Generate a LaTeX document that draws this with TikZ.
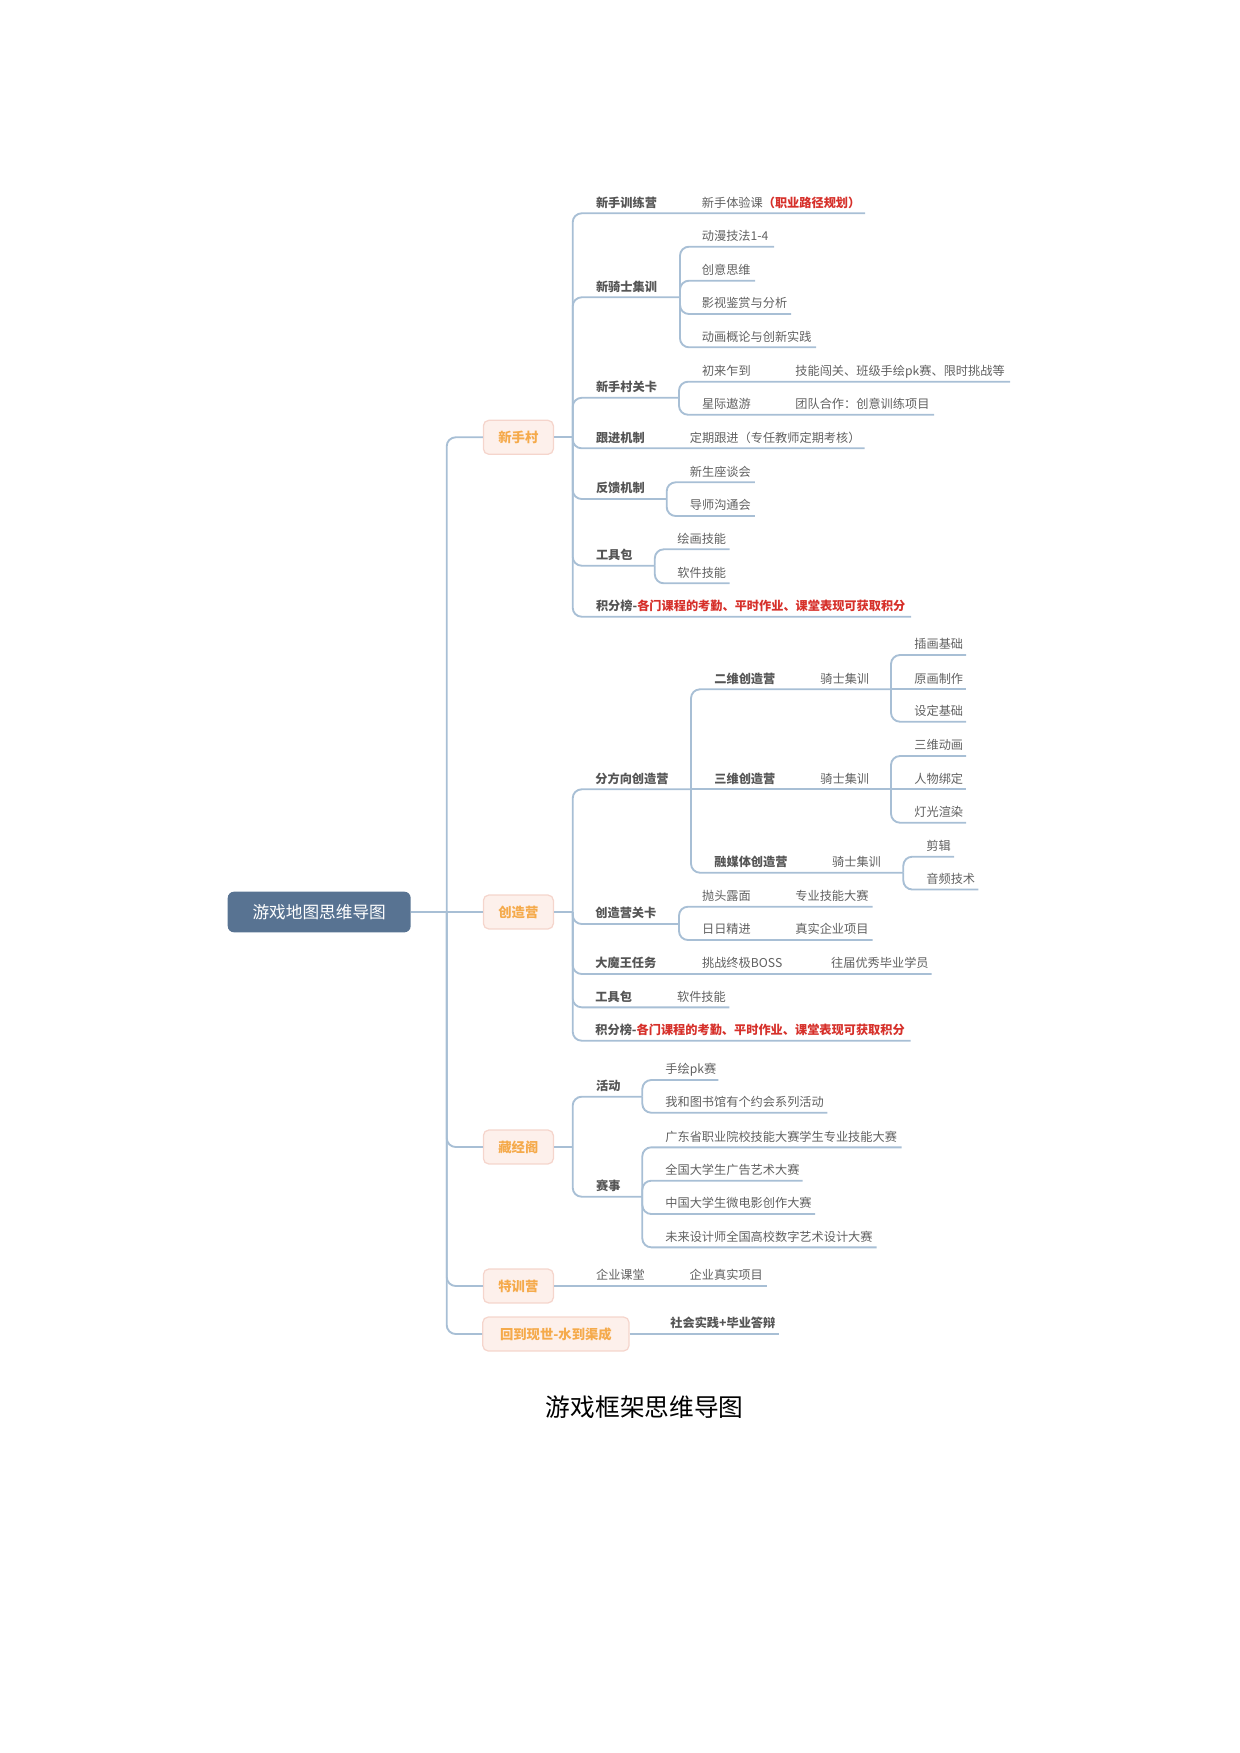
\documentclass[tikz,border=0pt]{standalone}
\usepackage{fontspec}
\setmainfont{Noto Sans CJK SC}
\definecolor{ln}{RGB}{168,191,213}
\definecolor{rootc}{RGB}{88,115,146}
\definecolor{lof}{RGB}{253,240,235}
\definecolor{lob}{RGB}{245,213,204}
\definecolor{lot}{RGB}{245,170,75}
\definecolor{tg}{RGB}{96,96,96}
\definecolor{tdk}{RGB}{85,85,85}
\definecolor{redt}{RGB}{214,48,42}
\begin{document}
\begin{tikzpicture}[x=0.48pt,y=-0.48pt,
  conn/.style={draw=ln,line width=0.9pt,rounded corners=4.3pt},
  tr/.style={anchor=base west,inner sep=0pt,yshift=3pt,text=tg,font=\fontsize{5.85}{7}\selectfont},
  tb/.style={anchor=base west,inner sep=0pt,yshift=3pt,text=tdk,font=\fontsize{5.85}{7}\selectfont\bfseries},
  lone/.style={draw=lob,fill=lof,line width=0.6pt,rounded corners=2.6pt,minimum height=16.3pt,inner sep=0pt,text=lot,font=\fontsize{6.4}{8}\selectfont\bfseries},
  rootbox/.style={fill=rootc,rounded corners=3pt,minimum width=87.8pt,minimum height=19.5pt,inner sep=0pt,text=white,font=\fontsize{8}{10}\selectfont}]
\useasboundingbox (0,0) rectangle (1240,1753);

% root and level 1
\node[rootbox] (root) at (319.2,912) {游戏地图思维导图};
\coordinate (J) at (446.7,912);
\node[lone,minimum width=33.6pt] (xsc) at (518.4,437.3) {新手村};
\node[lone,minimum width=33.6pt] (czy) at (518.4,912) {创造营};
\node[lone,minimum width=33.6pt] (cjg) at (518.4,1147) {藏经阁};
\node[lone,minimum width=33.6pt] (txy) at (518.4,1286) {特训营};
\node[lone,minimum width=70.2pt] (hdxs) at (555.9,1334) {回到现世-水到渠成};
\draw[conn] (root.east) -- (J);
\draw[conn] (J) |- (xsc.west);
\draw[conn] (J) -- (czy.west);
\draw[conn] (J) |- (cjg.west);
\draw[conn] (J) |- (txy.west);
\draw[conn] (J) |- (hdxs.west);

% ===== 新手村 =====
\coordinate (pA) at (572.7,437.3);
\draw[conn] (xsc.east) -- (pA);
\node[tb] (a1) at (595.6,213.3) {新手训练营};
\node[tr] (a1a) at (701.5,213.3) {新手体验课\textcolor{redt}{\bfseries（职业路径规划）}};
\draw[conn] (pA) |- (865,213.3);

\node[tb] (a2) at (595.6,297.3) {新骑士集训};
\coordinate (pA2) at (680,297.3);
\draw[conn] (pA) |- (pA2);
\node[tr] (a2a) at (701.5,246.7) {动漫技法1-4};
\node[tr] (a2b) at (701.5,280.7) {创意思维};
\node[tr] (a2c) at (701.5,314) {影视鉴赏与分析};
\node[tr] (a2d) at (701.5,347.3) {动画概论与创新实践};
\draw[conn] (pA2) |- (774,246.7);
\draw[conn] (pA2) |- (755,280.7);
\draw[conn] (pA2) |- (791,314);
\draw[conn] (pA2) |- (816,347.3);

\node[tb] (a3) at (595.6,397.8) {新手村关卡};
\coordinate (pA3) at (679,397.8);
\draw[conn] (pA) |- (pA3);
\node[tr] (a3a) at (701.6,381.7) {初来乍到};
\node[tr] (a3a1) at (795,381.7) {技能闯关、班级手绘pk赛、限时挑战等};
\node[tr] (a3b) at (701.6,414.7) {星际遨游};
\node[tr] (a3b1) at (795,414.7) {团队合作：创意训练项目};
\draw[conn] (pA3) |- (1010,381.7);
\draw[conn] (pA3) |- (934,414.7);

\node[tb] (a4) at (595.6,448.3) {跟进机制};
\node[tr] (a4a) at (689.5,448.3) {定期跟进（专任教师定期考核）};
\draw[conn] (pA) |- (864.5,448.3);

\node[tb] (a5) at (595.6,499) {反馈机制};
\coordinate (pA5) at (666.7,499);
\draw[conn] (pA) |- (pA5);
\node[tr] (a5a) at (689.5,482.3) {新生座谈会};
\node[tr] (a5b) at (689.5,516) {导师沟通会};
\draw[conn] (pA5) |- (754.8,482.3);
\draw[conn] (pA5) |- (754.8,516);

\node[tb] (a6) at (595.6,565.7) {工具包};
\coordinate (pA6) at (654.8,565.7);
\draw[conn] (pA) |- (pA6);
\node[tr] (a6a) at (677,549.3) {绘画技能};
\node[tr] (a6b) at (677,583.3) {软件技能};
\draw[conn] (pA6) |- (729.6,549.3);
\draw[conn] (pA6) |- (729.6,583.3);

\node[tb] (a7) at (595.6,616.7) {积分榜-\textcolor{redt}{各门课程的考勤、平时作业、课堂表现可获取积分}};
\draw[conn] (pA) |- (911,616.7);

% ===== 创造营 =====
\coordinate (pB) at (572.7,912);
\draw[conn] (czy.east) -- (pB);
\node[tb] (b1) at (595,789.3) {分方向创造营};
\coordinate (pB1) at (691,789.3);
\draw[conn] (pB) |- (pB1);

\node[tb] (b11) at (714,689.3) {二维创造营};
\node[tr] (b11a) at (820,689.3) {骑士集训};
\coordinate (pB11) at (891,689.3);
\draw[conn] (pB1) |- (pB11);
\node[tr] (b11x) at (914,655) {插画基础};
\node[tr] (b11y) at (914,689.3) {原画制作};
\node[tr] (b11z) at (914,721.7) {设定基础};
\draw[conn] (pB11) |- (966,655);
\draw[conn] (pB11) -- (966,689.3);
\draw[conn] (pB11) |- (966,721.7);

\node[tb] (b12) at (714,789.3) {三维创造营};
\node[tr] (b12a) at (820,789.3) {骑士集训};
\coordinate (pB12) at (891,789.3);
\draw[conn] (pB1) -- (pB12);
\node[tr] (b12x) at (914,756) {三维动画};
\node[tr] (b12y) at (914,789.3) {人物绑定};
\node[tr] (b12z) at (914,822.7) {灯光渲染};
\draw[conn] (pB12) |- (966,756);
\draw[conn] (pB12) -- (966,789.3);
\draw[conn] (pB12) |- (966,822.7);

\node[tb] (b13) at (714,872.7) {融媒体创造营};
\node[tr] (b13a) at (831.7,872.7) {骑士集训};
\coordinate (pB13) at (903.3,872.7);
\draw[conn] (pB1) |- (pB13);
\node[tr] (b13x) at (926,856.7) {剪辑};
\node[tr] (b13y) at (926,889.5) {音频技术};
\draw[conn] (pB13) |- (954,856.7);
\draw[conn] (pB13) |- (978.3,889.5);

\node[tb] (b2) at (595,924) {创造营关卡};
\coordinate (pB2) at (679,924);
\draw[conn] (pB) |- (pB2);
\node[tr] (b2a) at (701.7,906.7) {抛头露面};
\node[tr] (b2a1) at (795,906.7) {专业技能大赛};
\node[tr] (b2b) at (701.7,940) {日日精进};
\node[tr] (b2b1) at (795,940) {真实企业项目};
\draw[conn] (pB2) |- (872.7,906.7);
\draw[conn] (pB2) |- (872.7,940);

\node[tb] (b3) at (595,974) {大魔王任务};
\node[tr] (b3a) at (701.7,974) {挑战终极BOSS};
\node[tr] (b3b) at (830.7,974) {往届优秀毕业学员};
\draw[conn] (pB) |- (931.7,974);

\node[tb] (b4) at (595,1007.3) {工具包};
\node[tr] (b4a) at (676.7,1007.3) {软件技能};
\draw[conn] (pB) |- (729.3,1007.3);

\node[tb] (b5) at (595,1040.7) {积分榜-\textcolor{redt}{各门课程的考勤、平时作业、课堂表现可获取积分}};
\draw[conn] (pB) |- (910.7,1040.7);

% ===== 藏经阁 =====
\coordinate (pC) at (572.7,1147);
\draw[conn] (cjg.east) -- (pC);
\node[tb] (c1) at (595.7,1096.7) {活动};
\coordinate (pC1) at (642.3,1096.7);
\draw[conn] (pC) |- (pC1);
\node[tr] (c1a) at (665,1080) {手绘pk赛};
\node[tr] (c1b) at (665,1112.7) {我和图书馆有个约会系列活动};
\draw[conn] (pC1) |- (718.3,1080);
\draw[conn] (pC1) |- (827.3,1112.7);

\node[tb] (c2) at (595.7,1196.7) {赛事};
\coordinate (pC2) at (642.3,1196.7);
\draw[conn] (pC) |- (pC2);
\node[tr] (c2a) at (665,1147.3) {广东省职业院校技能大赛学生专业技能大赛};
\node[tr] (c2b) at (665,1180.7) {全国大学生广告艺术大赛};
\node[tr] (c2c) at (665,1214) {中国大学生微电影创作大赛};
\node[tr] (c2d) at (665,1247.3) {未来设计师全国高校数字艺术设计大赛};
\draw[conn] (pC2) |- (901.7,1147.3);
\draw[conn] (pC2) |- (802.7,1180.7);
\draw[conn] (pC2) |- (815,1214);
\draw[conn] (pC2) |- (876.7,1247.3);

% ===== 特训营 =====
\node[tr] (d1) at (595.7,1286) {企业课堂};
\node[tr] (d1a) at (689.3,1286) {企业真实项目};
\coordinate (dE) at (766.7,1286);
\draw[conn] (txy.east) -- (dE);

% ===== 回到现世 =====
\node[tb] (e1) at (670,1334) {社会实践+毕业答辩};
\coordinate (eE) at (779.3,1334);
\draw[conn] (hdxs.east) -- (eE);

% caption
\node[inner sep=0pt,font=\fontsize{11.85}{14}\selectfont] (cap) at (644.7,1406.7) {游戏框架思维导图};
\end{tikzpicture}
\end{document}
